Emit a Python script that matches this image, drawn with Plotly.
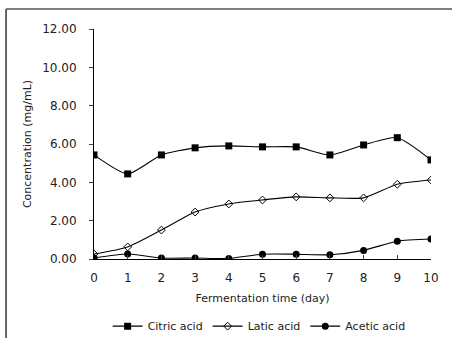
import plotly.graph_objects as go

days = [0, 1, 2, 3, 4, 5, 6, 7, 8, 9, 10]
citric = [5.43, 4.44, 5.43, 5.80, 5.90, 5.85, 5.85, 5.43, 5.95, 6.33, 5.17]
latic = [0.26, 0.63, 1.51, 2.45, 2.87, 3.08, 3.24, 3.19, 3.19, 3.90, 4.12]
acetic = [0.05, 0.26, 0.05, 0.05, 0.03, 0.25, 0.25, 0.22, 0.45, 0.93, 1.04]
y_ticks = [0, 2, 4, 6, 8, 10, 12]
y_labels = ["0.00", "2.00", "4.00", "6.00", "8.00", "10.00", "12.00"]

fig = go.Figure()
fig.add_trace(go.Scatter(x=days, y=citric, name="Citric acid", mode="lines+markers",
                         line=dict(color="black", width=1.1, shape="spline", smoothing=0.6),
                         marker=dict(symbol="square", size=7, color="black")))
fig.add_trace(go.Scatter(x=days, y=latic, name="Latic acid", mode="lines+markers",
                         line=dict(color="black", width=1.1, shape="spline", smoothing=0.6),
                         marker=dict(symbol="diamond-open", size=6, color="black", line=dict(width=1))))
fig.add_trace(go.Scatter(x=days, y=acetic, name="Acetic acid", mode="lines+markers",
                         line=dict(color="black", width=1.1, shape="spline", smoothing=0.6),
                         marker=dict(symbol="circle", size=7, color="black")))

font = dict(family="DejaVu Sans, sans-serif", color="#222", size=12)
fig.update_layout(
    width=452, height=338,
    margin=dict(l=94, r=21, t=29, b=79, autoexpand=False),
    paper_bgcolor="white", plot_bgcolor="white",
    font=font,
    showlegend=True,
    legend=dict(orientation="h", x=0.49, xanchor="center", yref="container", y=0.035, yanchor="middle",
                font=dict(size=11), itemwidth=30, tracegroupgap=0),
    xaxis=dict(range=[0, 10], tickvals=days, ticks="inside", ticklen=4,
               showline=True, linecolor="black", linewidth=1, showgrid=False, zeroline=False,
               title=dict(text="Fermentation time (day)", font=dict(size=11), standoff=9),
               tickfont=dict(size=12), ticklabelstandoff=8),
    yaxis=dict(range=[0, 12], tickvals=y_ticks, ticktext=y_labels, ticks="outside", ticklen=4,
               showline=True, linecolor="black", linewidth=1, showgrid=False, zeroline=False,
               title=dict(text="Concentration (mg/mL)", font=dict(size=11), standoff=8),
               tickfont=dict(size=12), ticklabelstandoff=10),
)
# scanned frame: left and top edges
fig.add_shape(type="line", xref="paper", yref="paper", x0=-0.261, x1=-0.261, y0=1.087, y1=-0.35,
              line=dict(color="#333", width=1.5))
fig.add_shape(type="line", xref="paper", yref="paper", x0=-0.261, x1=1.07, y0=1.087, y1=1.087,
              line=dict(color="#555", width=1.5))
fig.write_html("out.html")
